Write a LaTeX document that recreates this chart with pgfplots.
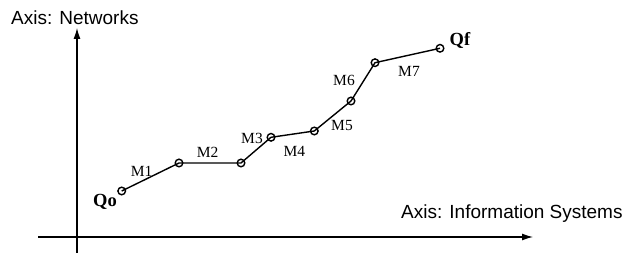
\documentclass[border=0pt]{standalone}
\usepackage{pgfplots}
\pgfplotsset{compat=1.18}
\usetikzlibrary{arrows.meta}
\usepackage{fontspec}
\setmainfont{Liberation Serif}
\newfontfamily\arial{Liberation Sans}
\begin{document}
\begin{tikzpicture}
\begin{axis}[
  x=1pt, y=1pt,
  axis lines=middle,
  xmin=-39, xmax=456, ymin=-16, ymax=209,
  ticks=none,
  enlargelimits=false,
  clip=false,
  axis line style={line width=1.2pt, -{Latex[length=11pt,width=7pt]}},
]
\addplot[black, line width=1.4pt, mark=o, mark size=3.8pt,
  mark options={line width=1.4pt, fill=white}] coordinates {
  (44.7,46) (102,74) (164,74) (194,99.7) (237.3,106) (274,136) (298,174.3) (363,188.7)
};
\node[font=\fontsize{18.5}{18.5}\selectfont\bfseries] at (axis cs:28,35.3) {Qo};
\node[font=\fontsize{15.5}{15.5}\selectfont] at (axis cs:64.7,65.3) {M1};
\node[font=\fontsize{15.5}{15.5}\selectfont] at (axis cs:130.7,84.3) {M2};
\node[font=\fontsize{15.5}{15.5}\selectfont] at (axis cs:175,98.7) {M3};
\node[font=\fontsize{15.5}{15.5}\selectfont] at (axis cs:217.3,86) {M4};
\node[font=\fontsize{15.5}{15.5}\selectfont] at (axis cs:265,111) {M5};
\node[font=\fontsize{15.5}{15.5}\selectfont] at (axis cs:267,157) {M6};
\node[font=\fontsize{15.5}{15.5}\selectfont] at (axis cs:332,166) {M7};
\node[font=\fontsize{18.5}{18.5}\selectfont\bfseries] at (axis cs:383,197) {Qf};
\node[anchor=base west, inner sep=0pt, font=\arial\fontsize{19}{19}\selectfont] at (axis cs:-66,212) {Axis: Networks};
\node[anchor=base west, inner sep=0pt, font=\arial\fontsize{19}{19}\selectfont] at (axis cs:324,18.7) {Axis: Information Systems};
\coordinate (bl) at (axis cs:-77,-16);
\coordinate (tr) at (axis cs:546,237);
\end{axis}
\pgfresetboundingbox
\path (bl) rectangle (tr);
\end{tikzpicture}
\end{document}
